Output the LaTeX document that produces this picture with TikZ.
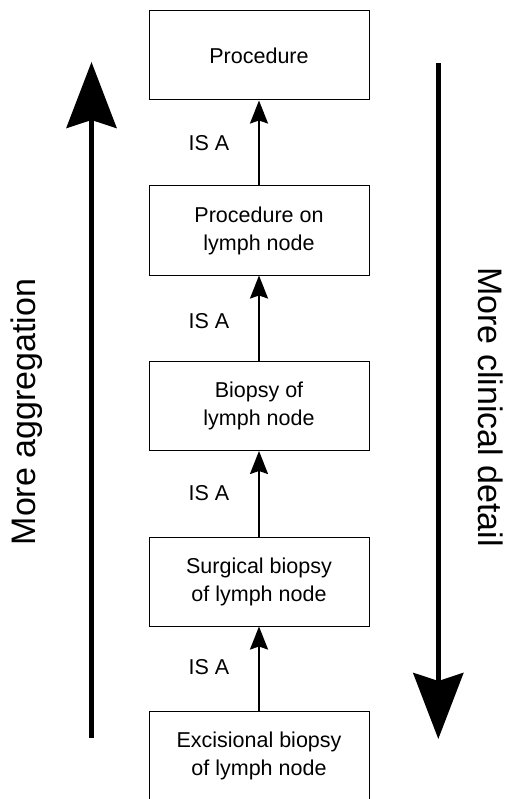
\documentclass[tikz,border=0pt]{standalone}
\usepackage{fontspec}
\setmainfont{Liberation Sans}
\usetikzlibrary{arrows.meta}
\begin{document}
\begin{tikzpicture}[x=1pt,y=-1pt,
  concept/.style={draw=black,line width=1pt,minimum width=220pt,minimum height=89pt,
    align=center,inner sep=0pt,font=\fontsize{21.5pt}{28pt}\selectfont},
  isa/.style={-{Stealth[length=23pt,width=18pt,inset=3pt]},line width=2pt},
  islabel/.style={font=\fontsize{21.5pt}{28pt}\selectfont,inner sep=0pt},
  bigarrow/.style={-{Stealth[length=66pt,width=50pt,inset=8pt]},line width=5pt},
  sidelabel/.style={font=\fontsize{34pt}{40pt}\selectfont,inner sep=0pt}]
\useasboundingbox (0,0) rectangle (516,799);

% concept hierarchy
\node[concept] (proc)  at (259,55.5)  {Procedure};
\node[concept] (lymph) at (259,230.5) {Procedure on\\lymph node};
\node[concept] (biop)  at (259,406)   {Biopsy of\\lymph node};
\node[concept] (surg)  at (259,581.5) {Surgical biopsy\\of lymph node};
\node[concept] (exc)   at (259,755.5) {Excisional biopsy\\of lymph node};

% IS A relations
\draw[isa] (lymph.north) -- (proc.south);
\draw[isa] (biop.north)  -- (lymph.south);
\draw[isa] (surg.north)  -- (biop.south);
\draw[isa] (exc.north)   -- (surg.south);

\node[islabel] (l1) at (209,143) {IS A};
\node[islabel] (l2) at (209,321) {IS A};
\node[islabel] (l3) at (209,493) {IS A};
\node[islabel] (l4) at (209,667) {IS A};

% direction arrows
\coordinate (aggbot) at (91.5,738);
\coordinate (aggtop) at (91.5,62);
\coordinate (dettop) at (438.3,63.5);
\coordinate (detbot) at (438.3,739);
\draw[bigarrow] (aggbot) -- (aggtop);
\draw[bigarrow] (dettop) -- (detbot);

\node[sidelabel,rotate=90]  (agg) at (27,412) {More aggregation};
\node[sidelabel,rotate=-90] (det) at (491,407) {More clinical detail};
\end{tikzpicture}
\end{document}
